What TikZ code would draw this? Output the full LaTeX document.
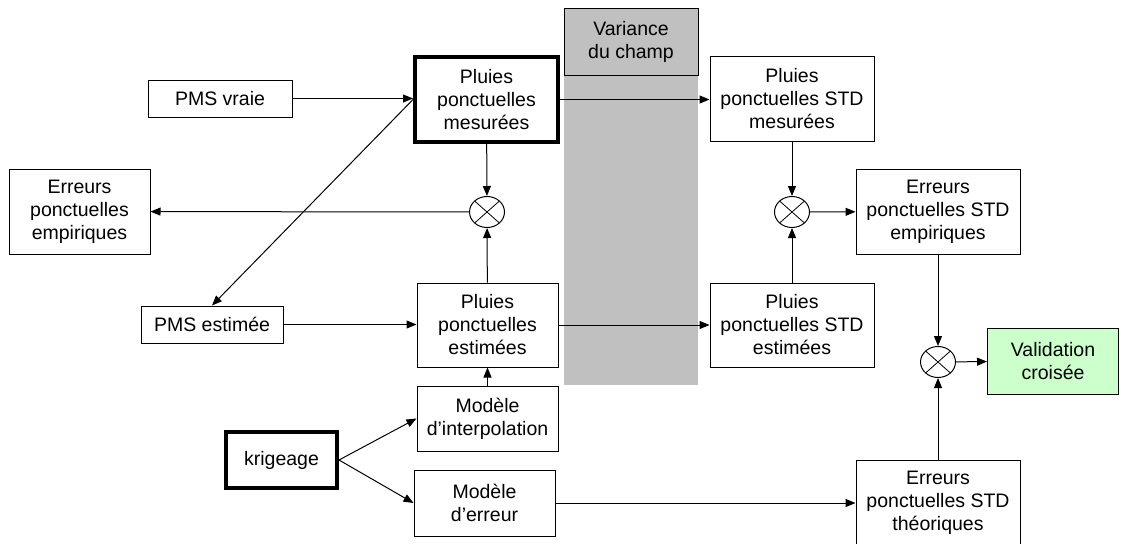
\documentclass[tikz,border=0pt]{standalone}
\usepackage{fontspec}
\setmainfont{Liberation Sans}
\usetikzlibrary{arrows.meta,shapes.geometric}
\definecolor{champgris}{HTML}{C0C0C0}
\definecolor{vertclair}{HTML}{CCFFCC}
\begin{document}
\begin{tikzpicture}[x=1pt, y=-1pt, line width=1pt,
    >={Triangle[length=10pt,width=8pt]},
    font=\fontsize{19.5}{23}\selectfont,
    bloc/.style={draw, align=center, inner sep=0pt},
    blocfort/.style={bloc, line width=4pt},
    mult/.style={draw, ellipse, minimum width=35pt, minimum height=31pt, inner sep=0pt,
        path picture={\draw[line width=.8pt] (path picture bounding box.north west)--(path picture bounding box.south east)
            (path picture bounding box.north east)--(path picture bounding box.south west);}}]
    \useasboundingbox (0,0) rectangle (1123,543);
    % bande grise
    \fill[champgris] (564,75) rectangle (698,385);
    \node[bloc, fill=champgris, minimum width=134pt, minimum height=66pt] (var) at (631,42) {Variance\\du champ};
    % colonne de gauche
    \node[bloc, minimum width=144pt, minimum height=37pt] (vraie) at (220,98.5) {PMS vraie};
    \node[bloc, minimum width=141pt, minimum height=85pt] (erremp) at (79.5,211.5) {Erreurs\\ponctuelles\\empiriques};
    \node[bloc, minimum width=142pt, minimum height=37pt] (estm) at (212,324.5) {PMS estimée};
    \node[blocfort, minimum width=111pt, minimum height=56pt] (krig) at (281.5,460) {krigeage};
    % pluies ponctuelles
    \node[blocfort, minimum width=143pt, minimum height=85pt] (mes) at (486.5,99.5) {Pluies\\ponctuelles\\mesurées};
    \node[mult] (c1) at (487,212) {};
    \node[bloc, minimum width=141pt, minimum height=84pt] (est) at (487.5,325) {Pluies\\ponctuelles\\estimées};
    \node[bloc, minimum width=141pt, minimum height=65pt] (interp) at (487.5,418.5) {Modèle\\d’interpolation};
    \node[bloc, minimum width=141pt, minimum height=66pt] (err) at (484.5,503) {Modèle\\d’erreur};
    % pluies STD
    \node[bloc, minimum width=164pt, minimum height=84pt] (stdmes) at (792,99) {Pluies\\ponctuelles STD\\mesurées};
    \node[mult] (c2) at (792,212) {};
    \node[bloc, minimum width=164pt, minimum height=84pt] (stdest) at (792,325) {Pluies\\ponctuelles STD\\estimées};
    % erreurs STD
    \node[bloc, minimum width=164pt, minimum height=85pt] (stderr) at (938,211.5) {Erreurs\\ponctuelles STD\\empiriques};
    \node[mult] (c3) at (938,362) {};
    \node[bloc, fill=vertclair, minimum width=131pt, minimum height=66pt] (valid) at (1053,361) {Validation\\croisée};
    \node[bloc, minimum width=164pt, minimum height=85pt] (theo) at (938,502.5) {Erreurs\\ponctuelles STD\\théoriques};
    % liaisons
    \draw[->] (vraie.east) -- (vraie.east -| mes.west);
    \draw[->] (mes.west) -- (estm.north);
    \draw[->] (mes.east) -- (mes.east -| stdmes.west);
    \draw[->] (mes) -- (c1);
    \draw[->] (est) -- (c1);
    \draw[->] (c1) -- (erremp);
    \draw[->] (estm.east) -- (estm.east -| est.west);
    \draw[->] (est.east) -- (est.east -| stdest.west);
    \draw[->] (interp) -- (est);
    \draw[->] (krig.east) -- (interp.west);
    \draw[->] (krig.east) -- (err.west);
    \draw[->] (err.east) -- (err.east -| theo.west);
    \draw[->] (stdmes) -- (c2);
    \draw[->] (stdest) -- (c2);
    \draw[->] (c2) -- (stderr);
    \draw[->] (stderr) -- (c3);
    \draw[->] (theo) -- (c3);
    \draw[->] (c3) -- (valid);
\end{tikzpicture}
\end{document}
